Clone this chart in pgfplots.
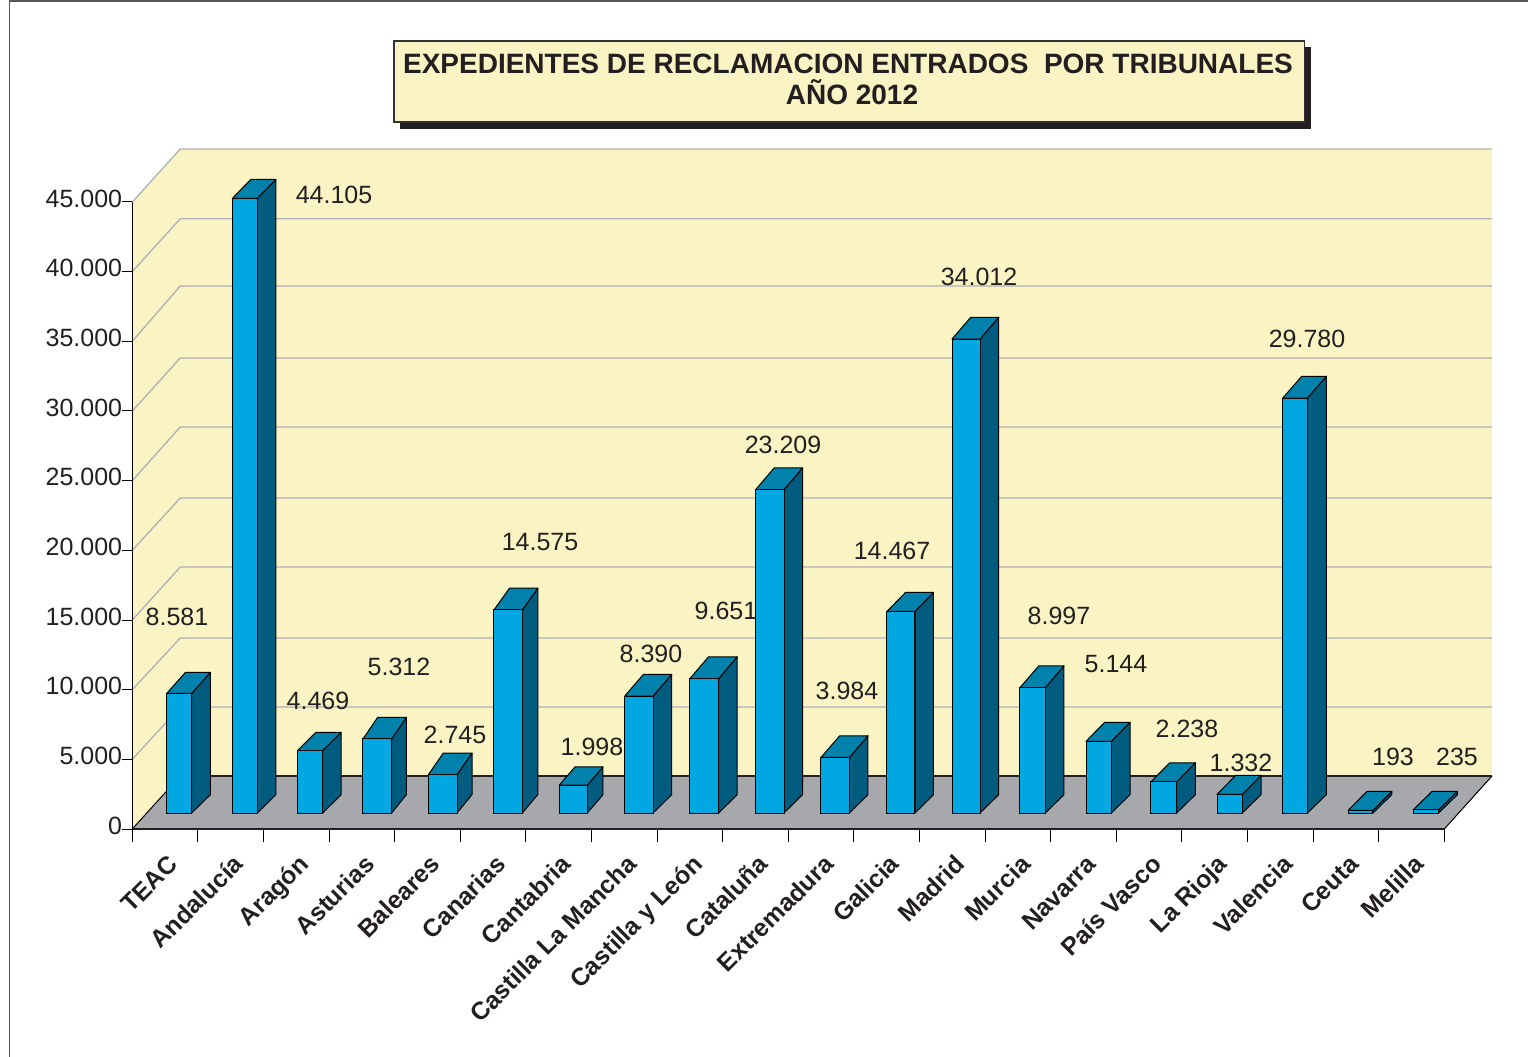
\documentclass[border=0pt]{standalone}
\usepackage{fontspec}
\setmainfont{Liberation Sans}
\usepackage{pgfplots}
\pgfplotsset{compat=1.18}
\definecolor{wall}{HTML}{FAF3C3}
\definecolor{floorc}{HTML}{A7A8AC}
\definecolor{gridc}{HTML}{AEB0B5}
\definecolor{front}{HTML}{00A7E1}
\definecolor{side}{HTML}{005C7E}
\definecolor{topc}{HTML}{0082AC}
\definecolor{ink}{HTML}{231F20}
% index, value, left px, width px, depth x px, depth y px (top)
\newcommand{\threedbar}[6]{%
  \pgfkeys{/pgf/fpu=true,/pgf/fpu/output format=fixed}%
  \pgfmathsetmacro\xl{(#3-132.3)/65.6-0.5}%
  \pgfmathsetmacro\xr{(#3+#4-132.3)/65.6-0.5}%
  \pgfmathsetmacro\xc{(#3+0.5*#4-132.3)/65.6-0.5}%
  \pgfmathsetmacro\xlb{(#3+#5-132.3)/65.6-0.5}%
  \pgfmathsetmacro\xrb{(#3+#4+#5-132.3)/65.6-0.5}%
  \pgfmathsetmacro\ytb{#2+#6/0.013933}%
  \pgfmathsetmacro\ybb{18.3/0.013933}%
  \pgfkeys{/pgf/fpu=false}%
  \addplot[draw=black,line width=1pt,fill=side,line join=round,yshift=16pt] coordinates {(\xr,0) (\xrb,\ybb) (\xrb,\ytb) (\xr,#2)} -- cycle;
  \addplot[draw=black,line width=1pt,fill=topc,line join=round,yshift=16pt] coordinates {(\xl,#2) (\xlb,\ytb) (\xrb,\ytb) (\xr,#2)} -- cycle;
  \addplot[ybar,bar width=#4pt,bar shift=0pt,draw=black,line width=1pt,fill=front,yshift=16pt] coordinates {(\xc,#2)};
}
\newcommand{\pxy}[2]{({((#1)-132.3)*1pt},{(829-(#2))*1pt})}
\newcommand{\val}[3]{\node[text=ink,inner sep=0pt,font=\fontsize{25}{30}\selectfont] at \pxy{#1}{#2} {#3};}
\begin{document}
\begin{tikzpicture}
\path[use as bounding box] (-132.3pt,-228pt) rectangle (1395.7pt,829pt);
\begin{axis}[
  at={(0pt,0pt)},anchor=south west,
  scale only axis,width=1312pt,height=627pt,
  xmin=-0.5,xmax=19.5,ymin=0,ymax=45000,
  clip=false,axis on top=true,
  axis lines=left,
  axis line style={-},
  x axis line style={line width=2.5pt,draw=ink},
  y axis line style={line width=1pt,draw=black},
  xtick={0,1,...,19},
  xticklabels={TEAC,Andalucía,Aragón,Asturias,Baleares,Canarias,Cantabria,Castilla La Mancha,Castilla y León,Cataluña,Extremadura,Galicia,Madrid,Murcia,Navarra,País Vasco,La Rioja,Valencia,Ceuta,Melilla},
  major x tick style={draw=none},
  minor xtick={-0.5,0.5,...,19.5},
  minor x tick style={draw=black,line width=1pt},
  minor tick length=13pt,
  ytick={0,5000,...,45000},
  y tick style={draw=black,line width=1pt},
  major tick length=10pt,
  tick align=outside,
  scaled y ticks=false,
  y tick label style={inner sep=0pt,yshift=3.5pt,text=ink,font=\fontsize{25}{30}\selectfont,
     /pgf/number format/.cd,fixed,1000 sep={.},assume math mode=true},
  x tick label style={rotate=45,anchor=base east,inner sep=0pt,xshift=-9.1pt,yshift=-29pt,text=ink,
     font=\bfseries\fontsize{24.8}{28}\selectfont},
]
% walls and floor
\addplot[fill=wall,draw=none] coordinates {(-0.5,0) (-0.5,45000) (0.2317,48804) (20.227,48804) (20.227,3804) (19.5,0)} -- cycle;
\addplot[fill=floorc,draw=none] coordinates {(-0.5,0) (0.2317,3804) (20.227,3804) (19.5,0)} -- cycle;
\addplot[draw=gridc,line width=1.3pt] coordinates {(-0.5,45000) (0.2317,48804) (20.227,48804)};
\addplot[draw=gridc,line width=1.3pt] coordinates {(-0.5,40000) (0.2317,43804) (20.227,43804)};
\addplot[draw=gridc,line width=1.3pt] coordinates {(-0.5,35000) (0.2317,38972) (20.227,38972)};
\addplot[draw=gridc,line width=1.3pt] coordinates {(-0.5,30000) (0.2317,33805) (20.227,33805)};
\addplot[draw=gridc,line width=1.3pt] coordinates {(-0.5,25000) (0.2317,28852) (20.227,28852)};
\addplot[draw=gridc,line width=1.3pt] coordinates {(-0.5,20000) (0.2317,23756) (20.227,23756)};
\addplot[draw=gridc,line width=1.3pt] coordinates {(-0.5,15000) (0.2317,18804) (20.227,18804)};
\addplot[draw=gridc,line width=1.3pt] coordinates {(-0.5,10000) (0.2317,13708) (20.227,13708)};
\addplot[draw=gridc,line width=1.3pt] coordinates {(-0.5,5000) (0.2317,8756) (20.227,8756)};
\addplot[draw=black,line width=1pt] coordinates {(-0.5,0) (0.2317,3804)};
\addplot[draw=ink,line width=1.6pt] coordinates {(0.2317,3804) (20.227,3804)};
\addplot[draw=black,line width=1pt] coordinates {(19.5,0) (20.227,3804)};
% bars
\threedbar{0}{8581}{166.7}{25}{18.7}{21}
\threedbar{1}{44105}{232.3}{25}{18.5}{19}
\threedbar{2}{4469}{297.3}{25.4}{18.5}{18.3}
\threedbar{3}{5312}{363}{28.7}{14.7}{21.7}
\threedbar{4}{2745}{428.3}{28.7}{15}{21.7}
\threedbar{5}{14575}{494}{28.3}{15.5}{21.7}
\threedbar{6}{1998}{559.3}{28}{15.7}{18.3}
\threedbar{7}{8390}{624.7}{28.3}{18.7}{21.7}
\threedbar{8}{9651}{690}{28.7}{18.5}{21.7}
\threedbar{9}{23209}{755.7}{28.3}{18.5}{21.7}
\threedbar{10}{3984}{821}{28.3}{18.7}{21.7}
\threedbar{11}{14467}{887}{28}{18.5}{19}
\threedbar{12}{34012}{952}{28}{18.7}{21.7}
\threedbar{13}{8997}{1020}{25.3}{18.7}{21.7}
\threedbar{14}{5144}{1086}{25.3}{18.7}{19}
\threedbar{15}{2238}{1151}{25.7}{18.7}{19}
\threedbar{16}{1332}{1217}{25.3}{18.7}{19}
\threedbar{17}{29780}{1282.7}{24.7}{19}{21.7}
\threedbar{18}{193}{1348.3}{24.7}{18.7}{19}
\threedbar{19}{235}{1413.3}{25.4}{18.7}{18.3}
\end{axis}
% frame
\draw[draw=black!65,line width=1.3pt] \pxy{9.5}{1057} -- \pxy{9.5}{1} -- \pxy{1528}{1};
% title
\fill[ink] \pxy{400}{47} rectangle \pxy{1311}{129};
\draw[draw=black!80,line width=1.2pt,fill=wall] \pxy{394}{41} rectangle \pxy{1304.5}{122};
\node[text=ink,inner sep=0pt,font=\bfseries\fontsize{28}{32}\selectfont] at \pxy{848}{63.5} {EXPEDIENTES DE RECLAMACION ENTRADOS\ \ POR TRIBUNALES};
\node[text=ink,inner sep=0pt,font=\bfseries\fontsize{28}{32}\selectfont] at \pxy{852}{92.5} {AÑO 2012};
% values
\val{177}{617}{8.581}
\val{334}{195}{44.105}
\val{318}{701}{4.469}
\val{399}{667}{5.312}
\val{455}{735}{2.745}
\val{540}{542}{14.575}
\val{592}{747}{1.998}
\val{651}{654}{8.390}
\val{726}{611}{9.651}
\val{783}{445}{23.209}
\val{847}{691}{3.984}
\val{892}{551}{14.467}
\val{979}{277}{34.012}
\val{1059}{616}{8.997}
\val{1116}{664}{5.144}
\val{1187}{729}{2.238}
\val{1241}{763}{1.332}
\val{1307}{339}{29.780}
\val{1393}{757}{193}
\val{1457}{757}{235}
\end{tikzpicture}
\end{document}
